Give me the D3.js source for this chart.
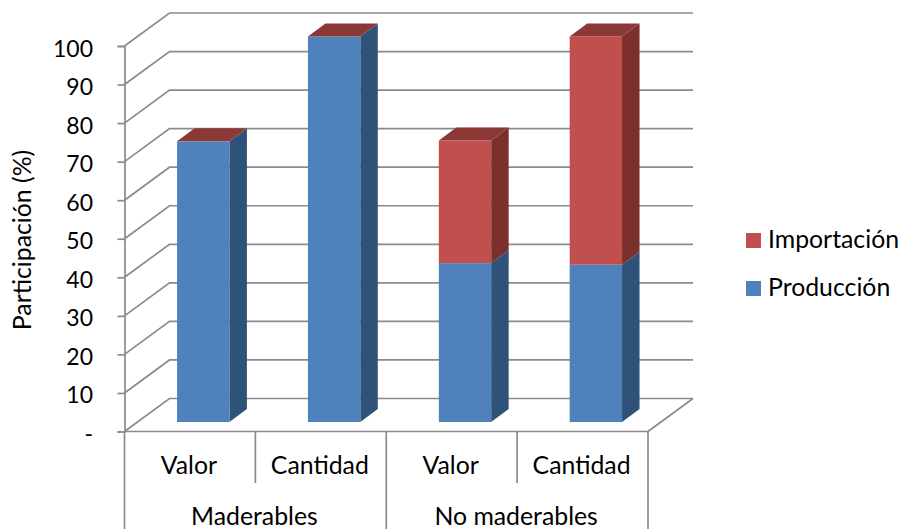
<!DOCTYPE html>
<html>
<head>
<meta charset="utf-8">
<script src="https://cdn.jsdelivr.net/npm/d3@7"></script>
<style>
  html, body { margin: 0; background: #fff; }
  text { font-family: Lato, sans-serif; fill: #000; }
</style>
</head>
<body>
<div id="chart"></div>
<script>
const categories = ["Valor", "Cantidad", "Valor ", "Cantidad "];
const categoryLabels = ["Valor", "Cantidad", "Valor", "Cantidad"];
const groups = ["Maderables", "No maderables"];
const produccion = [72.8, 100, 41.2, 40.8];
const importacion = [0, 0, 31.8, 59.2];
const yTicks = [0, 10, 20, 30, 40, 50, 60, 70, 80, 90, 100];

const width = 902, height = 529;
const plot = { left: 124.5, right: 648, bottom: 431.5, top: 46 };
// depth of the fake 3d box, and how far the bars sit inside it
const depth = { x: 45, y: -33 };
const barDepth = { x: 17.5, y: -13 };
const barShift = { x: 13.3, y: -9.5 };
const fontSize = 24.8;
const gridColor = "#8b8b8b";

const svg = d3.select("#chart").append("svg")
  .attr("width", width)
  .attr("height", height)
  .style("display", "block");

const x = d3.scaleBand(categories, [plot.left, plot.right]).paddingInner(0.6).paddingOuter(0.3);
const y = d3.scaleLinear([0, 100], [plot.bottom, plot.top]);
const step = x.step();

// walls
const grid = svg.append("g")
  .attr("fill", "none")
  .attr("stroke", gridColor)
  .attr("stroke-width", 1.7);

grid.selectAll("path")
  .data(yTicks)
  .join("path")
  .attr("d", (d) => d3.line()([
    [plot.left, y(d)],
    [plot.left + depth.x, y(d) + depth.y],
    [plot.right + depth.x, y(d) + depth.y],
  ]));

grid.append("path")
  .attr("d", d3.line()([
    [plot.right, plot.bottom],
    [plot.right + depth.x, plot.bottom + depth.y],
  ]));

// bars, bottom segment first
const stacked = categories.map((c, i) => ({
  cat: c,
  segs: [
    { from: 0, to: produccion[i], front: "#4f81bd", side: "#2f5279" },
    { from: produccion[i], to: produccion[i] + importacion[i], front: "#c0504d", side: "#7b302e" },
  ],
}));

const face = (pts) => d3.line()(pts) + "Z";

const bars = svg.append("g").selectAll("g")
  .data(stacked)
  .join("g")
  .attr("transform", `translate(${barShift.x},${barShift.y})`);

bars.each(function (d) {
  const g = d3.select(this);
  const x0 = x(d.cat);
  const x1 = x0 + x.bandwidth();
  d.segs.filter((s) => s.to > s.from).forEach((s) => {
    g.append("path")
      .attr("fill", s.side)
      .attr("d", face([
        [x1, y(s.from)],
        [x1 + barDepth.x, y(s.from) + barDepth.y],
        [x1 + barDepth.x, y(s.to) + barDepth.y],
        [x1, y(s.to)],
      ]));
    g.append("rect")
      .attr("x", x0)
      .attr("y", y(s.to))
      .attr("width", x.bandwidth())
      .attr("height", y(s.from) - y(s.to))
      .attr("fill", s.front);
  });
  const t = d.segs[1].to;
  g.append("path")
    .attr("fill", "#8c3836")
    .attr("d", face([
      [x0, y(t)],
      [x0 + barDepth.x, y(t) + barDepth.y],
      [x1 + barDepth.x, y(t) + barDepth.y],
      [x1, y(t)],
    ]));
});

// y axis
const yAxis = svg.append("g")
  .attr("transform", `translate(${plot.left},0)`)
  .call(d3.axisLeft(y)
    .tickValues(yTicks)
    .tickSize(7)
    .tickPadding(24.5)
    .tickFormat((d) => (d === 0 ? "-" : d)));
yAxis.selectAll("line").attr("stroke", gridColor).attr("stroke-width", 1.7);
yAxis.select(".domain").attr("stroke", gridColor).attr("stroke-width", 1.7);
yAxis.selectAll("text")
  .attr("font-size", 23)
  .attr("font-family", "Lato, sans-serif")
  .attr("fill", "#000")
  .attr("dy", 10);

svg.append("text")
  .attr("transform", `translate(25,240) rotate(-90)`)
  .attr("text-anchor", "middle")
  .attr("dominant-baseline", "middle")
  .attr("font-size", fontSize)
  .text("Participación (%)");

// x axis, two levels
const xAxis = svg.append("g").attr("stroke", gridColor).attr("stroke-width", 1.7);
xAxis.append("line")
  .attr("x1", plot.left).attr("x2", plot.right)
  .attr("y1", plot.bottom).attr("y2", plot.bottom);
d3.range(5).forEach((i) => {
  xAxis.append("line")
    .attr("x1", plot.left + i * step).attr("x2", plot.left + i * step)
    .attr("y1", plot.bottom)
    .attr("y2", i % 2 === 0 ? height : 483);
});

svg.append("g").selectAll("text")
  .data(categoryLabels)
  .join("text")
  .attr("x", (d, i) => plot.left + (i + 0.5) * step - 1)
  .attr("y", 474)
  .attr("text-anchor", "middle")
  .attr("font-size", fontSize)
  .text((d) => d);

svg.append("g").selectAll("text")
  .data(groups)
  .join("text")
  .attr("x", (d, i) => plot.left + (i * 2 + 1) * step - 1)
  .attr("y", 525)
  .attr("text-anchor", "middle")
  .attr("font-size", fontSize)
  .text((d) => d);

// legend
const legend = svg.append("g").selectAll("g")
  .data([["Importación", "#c0504d", 240.5], ["Producción", "#4f81bd", 288.5]])
  .join("g")
  .attr("transform", (d) => `translate(746,${d[2]})`);
legend.append("rect")
  .attr("y", -7.5)
  .attr("width", 15)
  .attr("height", 15)
  .attr("fill", (d) => d[1]);
legend.append("text")
  .attr("x", 22)
  .attr("y", 7)
  .attr("font-size", fontSize)
  .text((d) => d[0]);
</script>
</body>
</html>
